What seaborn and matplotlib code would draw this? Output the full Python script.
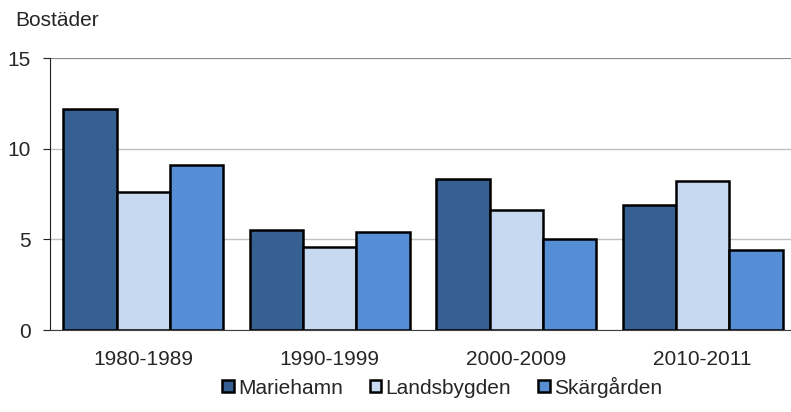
import pandas as pd
import matplotlib
matplotlib.use('Agg')
from matplotlib import pyplot as plt
from matplotlib.patches import Patch
import seaborn as sns

# data
perioder = ['1980-1989', '1990-1999', '2000-2009', '2010-2011']
mariehamn = [12.2, 5.5, 8.3, 6.9]
landsbygden = [7.6, 4.6, 6.6, 8.2]
skargarden = [9.1, 5.4, 5.0, 4.4]
omraden = ['Mariehamn', 'Landsbygden', 'Skärgården']
farger = ['#366092', '#C6D9F1', '#558ED5']

df = pd.DataFrame({
    'Period': perioder * 3,
    'Omrade': [o for o in omraden for _ in perioder],
    'Bostader': mariehamn + landsbygden + skargarden,
})

sns.set_style('white')
plt.rcParams['font.family'] = ['Liberation Sans', 'DejaVu Sans']

fig = plt.figure(figsize=(7.91, 4.12), dpi=100)
ax = fig.add_axes([50 / 791, 1 - 330 / 412, 746 / 791, 272 / 412])

sns.barplot(data=df, x='Period', y='Bostader', hue='Omrade', palette=farger,
            saturation=1, width=0.856, edgecolor='black', linewidth=1.8, ax=ax,
            legend=False, zorder=3)

ax.set_xlim(-0.5, 3.5)
ax.set_ylim(0, 15)
ax.set_yticks([0, 5, 10, 15])
ax.yaxis.grid(True, color='#c0c0c0', linewidth=1, zorder=0)
ax.set_xlabel('')
ax.set_ylabel('')
for s in ['right', 'top']:
    ax.spines[s].set_visible(False)
ax.spines['left'].set_color('#202020')
ax.spines['bottom'].set_color('#404040')
ax.axhline(15, color='#808080', linewidth=1.2, zorder=1)
ax.tick_params(axis='y', left=True, length=5, color='#202020', labelsize=15, pad=9)
ax.tick_params(axis='x', bottom=False, labelsize=15, pad=11)

fig.text(15 / 791, 1 - 20 / 412, 'Bostäder', fontsize=15, va='center', ha='left')

handles = [Patch(facecolor=c, edgecolor='black', linewidth=1.8) for c in farger]
fig.legend(handles, omraden, loc='center', bbox_to_anchor=(442 / 791, 1 - 387 / 412),
           ncol=3, frameon=False, fontsize=15, handlelength=0.55, handleheight=0.55,
           handletextpad=0.2, columnspacing=1.3)

fig.savefig('out.png', dpi=100)
